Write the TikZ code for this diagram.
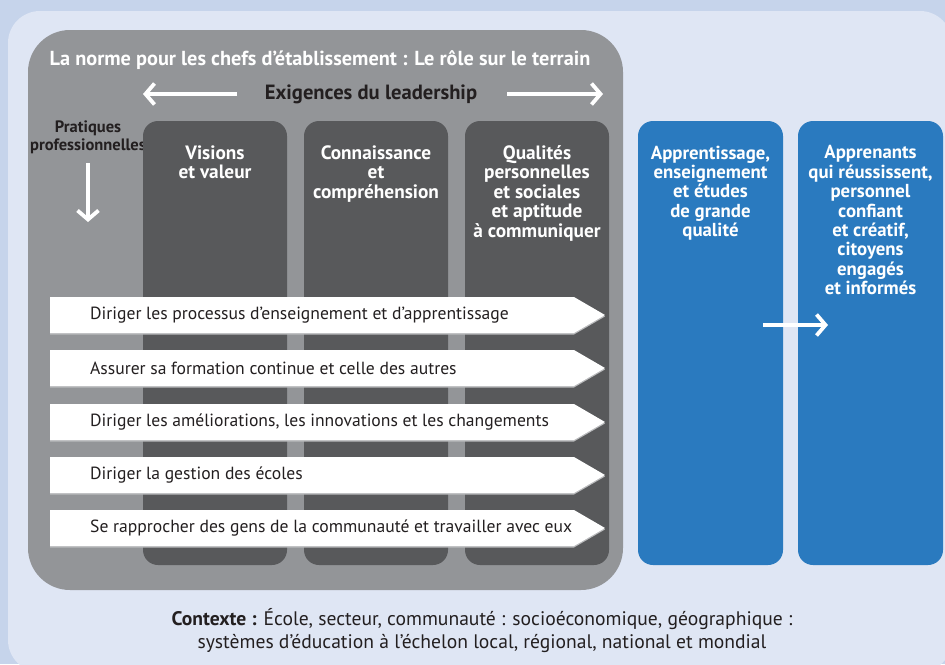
\documentclass[tikz,border=0pt]{standalone}
\usepackage{fontspec}
\setmainfont{PT Sans}
\usetikzlibrary{arrows.meta}
\definecolor{bgblue}{HTML}{C6D4EB}
\definecolor{panelblue}{HTML}{DFE6F4}
\definecolor{midgray}{HTML}{939598}
\definecolor{darkgray}{HTML}{58595B}
\definecolor{boxblue}{HTML}{2A7ABF}
\definecolor{inkdark}{HTML}{231F20}
\definecolor{shadowgray}{HTML}{B9BABC}
\tikzset{
  warrow/.style={draw=white, line width=3.8pt,
    -{Straight Barb[length=9pt,width=21pt,line width=3.8pt]}},
  colbox/.style={fill=darkgray, rounded corners=15pt, minimum width=144pt, minimum height=444pt, inner sep=0pt},
  bluebox/.style={fill=boxblue, rounded corners=15pt, minimum width=145pt, minimum height=444pt, inner sep=0pt},
  headtext/.style={text=white, font=\bfseries\fontsize{19.3}{19.4}\selectfont, align=center, inner sep=0pt, anchor=north},
  bluetext/.style={headtext, font=\bfseries\fontsize{18.8}{19.4}\selectfont},
  bannertext/.style={text=inkdark, font=\fontsize{17.6}{20}\selectfont, anchor=west, inner sep=0pt},
  banner/.style={fill=white},
}
\begin{document}
\begin{tikzpicture}[x=1pt,y=-1pt]
\useasboundingbox (0,0) rectangle (945,664);
\fill[bgblue] (0,0) rectangle (945,664);
\fill[panelblue, rounded corners=32pt] (8,11) rectangle (952,672);
% gray panel
\fill[midgray, rounded corners=42pt] (28,30) rectangle (623,590);
\node[text=white, font=\bfseries\fontsize{20.3}{22}\selectfont, inner sep=0pt] (title) at (320,60) {La norme pour les chefs d’établissement : Le rôle sur le terrain};
\node[text=inkdark, font=\bfseries\fontsize{20.6}{23}\selectfont, inner sep=0pt] (exig) at (371,94) {Exigences du leadership};
\coordinate (la) at (237,94);
\coordinate (lb) at (143,94);
\coordinate (ra) at (507,94);
\coordinate (rb) at (603,94);
\draw[warrow] (la) -- (lb);
\draw[warrow] (ra) -- (rb);
% pratiques
\node[text=inkdark, font=\bfseries\fontsize{16.5}{17.5}\selectfont, align=center, inner sep=0pt, anchor=north] (prat) at (88,121) {Pratiques\\professionnelles};
\coordinate (da) at (88,163);
\coordinate (db) at (88,222);
\draw[warrow] (da) -- (db);
% columns
\node[colbox] (c1) at (215,343) {};
\node[colbox] (c2) at (376,343) {};
\node[colbox] (c3) at (537,343) {};
\node[headtext] (t1) at (c1.north |- 0,145.5) {Visions\\et valeur};
\node[headtext] (t2) at (c2.north |- 0,145.5) {Connaissance\\et\\compréhension};
\node[headtext] (t3) at (c3.north |- 0,145.5) {Qualités\\personnelles\\et sociales\\et aptitude\\à communiquer};
% blue boxes
\node[bluebox] (b1) at (710.5,343) {};
\node[bluebox] (b2) at (870.5,343) {};
\node[bluetext] (t4) at (b1.north |- 0,145.5) {Apprentissage,\\enseignement\\et études\\de grande\\qualité};
\node[bluetext] (t5) at (b2.north |- 0,145.5) {Apprenants\\qui réussissent,\\personnel\\confiant\\et créatif,\\citoyens\\engagés\\et informés};
\coordinate (ba) at (763,325);
\coordinate (bb) at (828,325);
\draw[warrow] (ba) -- (bb);
% banners
\foreach \y/\n/\txt in {297/p1/{Diriger les processus d’enseignement et d’apprentissage},
                       350/p2/{Assurer sa formation continue et celle des autres},
                       404/p3/{Diriger les améliorations, les innovations et les changements},
                       457/p4/{Diriger la gestion des écoles},
                       510/p5/{Se rapprocher des gens de la communauté et travailler avec eux}}{
  \fill[shadowgray] (50,\y+1.5) -- (574,\y+1.5) -- (605,\y+19.5) -- (574,\y+37.5) -- (50,\y+37.5) -- cycle;
  \fill[banner] (50,\y) -- (574,\y) -- (605,\y+18) -- (574,\y+36) -- (50,\y+36) -- cycle;
  \node[bannertext] (\n) at (90,\y+18) {\txt};
}
% context
\node[text=inkdark, font=\fontsize{19.6}{23}\selectfont, align=center, inner sep=0pt] (ctx) at (482,631) {\textbf{Contexte :} École, secteur, communauté : socioéconomique, géographique :\\systèmes d’éducation à l’échelon local, régional, national et mondial};
\end{tikzpicture}
\end{document}
